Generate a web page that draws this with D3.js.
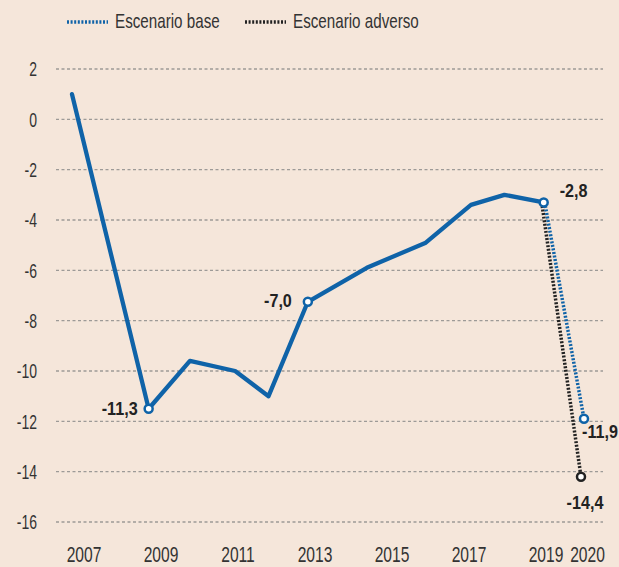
<!DOCTYPE html>
<html>
<head>
    <meta charset="utf-8">
    <title></title>
    <script src="https://d3js.org/d3.v7.min.js"></script>
    <style>
        html, body {
            margin: 0;
            padding: 0;
            background: #f5e6da;
        }
        text {
            font-family: 'Liberation Sans', Arial, sans-serif;
            fill: #333;
        }
    </style>
</head>
<body>
    <div id="chart"></div>
    <script>
        // Historical series (period as year position, value)
        const periods = [2007, 2008.95, 2010, 2011.15, 2012, 2013, 2014.5, 2016, 2017.15, 2018, 2019];
        const values = [1.0, -11.5, -9.6, -10.0, -11.0, -7.25, -5.9, -4.9, -3.4, -3.0, -3.3];

        // Scenarios for 2020 (start at 2019)
        const baseScenario = [[2019, -3.3], [2020, -11.9]];
        const adverseScenario = [[2019, -3.3], [2020, -14.2]];

        // Labelled points
        const labelPeriods = [2008.95, 2013, 2019];
        const labelTexts = ["-11,3", "-7,0", "-2,8"];
        const baseLabel = "-11,9";
        const adverseLabel = "-14,4";

        const yTicks = [2, 0, -2, -4, -6, -8, -10, -12, -14, -16];
        const xTicks = [2007, 2009, 2011, 2013, 2015, 2017, 2019, 2020];

        const blue = "#0f63a8";
        const dark = "#222";

        const width = 619, height = 567;

        // condensed look: squeeze text horizontally
        const squeeze = (px, py, s) => `translate(${px},${py}) scale(${s},1)`;

        const svg = d3.select("#chart")
            .append("svg")
            .attr("width", width)
            .attr("height", height);

        const x = d3.scaleLinear().domain([2007, 2020]).range([72, 583]);
        const xLabel = d3.scaleLinear().domain([2007, 2019]).range([84, 546]);
        const y = d3.scaleLinear().domain([-16, 2]).range([522, 69]);

        // Gridlines
        svg.append("g")
            .selectAll("line")
            .data(yTicks)
            .enter()
            .append("line")
            .attr("x1", 56)
            .attr("x2", 603)
            .attr("y1", d => y(d))
            .attr("y2", d => y(d))
            .attr("stroke", "#9d9a97")
            .attr("stroke-width", 1.3)
            .attr("stroke-dasharray", "3,2.5");

        // Y labels
        svg.append("g")
            .selectAll("text")
            .data(yTicks)
            .enter()
            .append("text")
            .attr("transform", d => squeeze(37, y(d), 0.7))
            .attr("dy", "0.36em")
            .attr("text-anchor", "end")
            .style("font-size", "20px")
            .text(d => d);

        // X labels
        svg.append("g")
            .selectAll("text")
            .data(xTicks)
            .enter()
            .append("text")
            .attr("transform", d => squeeze(d === 2020 ? xLabel(d) + 3 : xLabel(d), 562, 0.71))
            .attr("text-anchor", "middle")
            .style("font-size", "22px")
            .text(d => d);

        const line = d3.line()
            .x(d => x(d[0]))
            .y(d => y(d[1]));

        // Scenario lines
        svg.append("path")
            .datum(adverseScenario)
            .attr("d", line)
            .attr("transform", "translate(-2,0)")
            .attr("fill", "none")
            .attr("stroke", dark)
            .attr("stroke-width", 3.5)
            .attr("stroke-dasharray", "2,1.6");

        svg.append("path")
            .datum(baseScenario)
            .attr("d", line)
            .attr("transform", "translate(1,0)")
            .attr("fill", "none")
            .attr("stroke", blue)
            .attr("stroke-width", 3.5)
            .attr("stroke-dasharray", "2,1.6");

        // Main line
        const hist = periods.map((p, i) => [p, values[i]]);
        svg.append("path")
            .datum(hist)
            .attr("d", line)
            .attr("fill", "none")
            .attr("stroke", blue)
            .attr("stroke-width", 4.3)
            .attr("stroke-linejoin", "round")
            .attr("stroke-linecap", "round");

        // Circles
        const labelled = labelPeriods.map(p => hist.find(d => d[0] === p));
        svg.append("g")
            .selectAll("circle")
            .data(labelled)
            .enter()
            .append("circle")
            .attr("cx", d => x(d[0]))
            .attr("cy", d => y(d[1]))
            .attr("r", 4)
            .attr("fill", "#fff")
            .attr("stroke", blue)
            .attr("stroke-width", 2.5);

        const baseEnd = baseScenario[1], advEnd = adverseScenario[1];
        svg.append("circle")
            .attr("cx", x(advEnd[0]) - 2)
            .attr("cy", y(advEnd[1]))
            .attr("r", 4)
            .attr("fill", "#fff")
            .attr("stroke", dark)
            .attr("stroke-width", 2.5);
        svg.append("circle")
            .attr("cx", x(baseEnd[0]) + 1)
            .attr("cy", y(baseEnd[1]))
            .attr("r", 4)
            .attr("fill", "#fff")
            .attr("stroke", blue)
            .attr("stroke-width", 2.5);

        // Value labels
        const bold = sel => sel.style("font-size", "19px").style("font-weight", "bold").style("fill", "#222");
        const offsets = [
            { dx: -11, dy: 6, anchor: "end" },
            { dx: -16, dy: 5, anchor: "end" },
            { dx: 16, dy: -5, anchor: "start" }
        ];
        labelled.forEach((d, i) => {
            svg.append("text")
                .attr("transform", squeeze(x(d[0]) + offsets[i].dx, y(d[1]) + offsets[i].dy, 0.85))
                .attr("text-anchor", offsets[i].anchor)
                .call(bold)
                .text(labelTexts[i]);
        });
        svg.append("text")
            .attr("transform", squeeze(x(baseEnd[0]) - 1, y(baseEnd[1]) + 19, 0.85))
            .attr("text-anchor", "start")
            .call(bold)
            .text(baseLabel);
        svg.append("text")
            .attr("transform", squeeze(x(advEnd[0]) + 2, y(advEnd[1]) + 32, 0.85))
            .attr("text-anchor", "middle")
            .call(bold)
            .text(adverseLabel);

        // Legend
        const legendItems = [
            { label: "Escenario base", color: blue, x: 67 },
            { label: "Escenario adverso", color: dark, x: 245 }
        ];
        legendItems.forEach(item => {
            svg.append("line")
                .attr("x1", item.x)
                .attr("x2", item.x + 41)
                .attr("y1", 22)
                .attr("y2", 22)
                .attr("stroke", item.color)
                .attr("stroke-width", 3.5)
                .attr("stroke-dasharray", "2,1.6");
            svg.append("text")
                .attr("transform", squeeze(item.x + 48, 28, 0.76))
                .style("font-size", "20px")
                .text(item.label);
        });
    </script>
</body>
</html>
